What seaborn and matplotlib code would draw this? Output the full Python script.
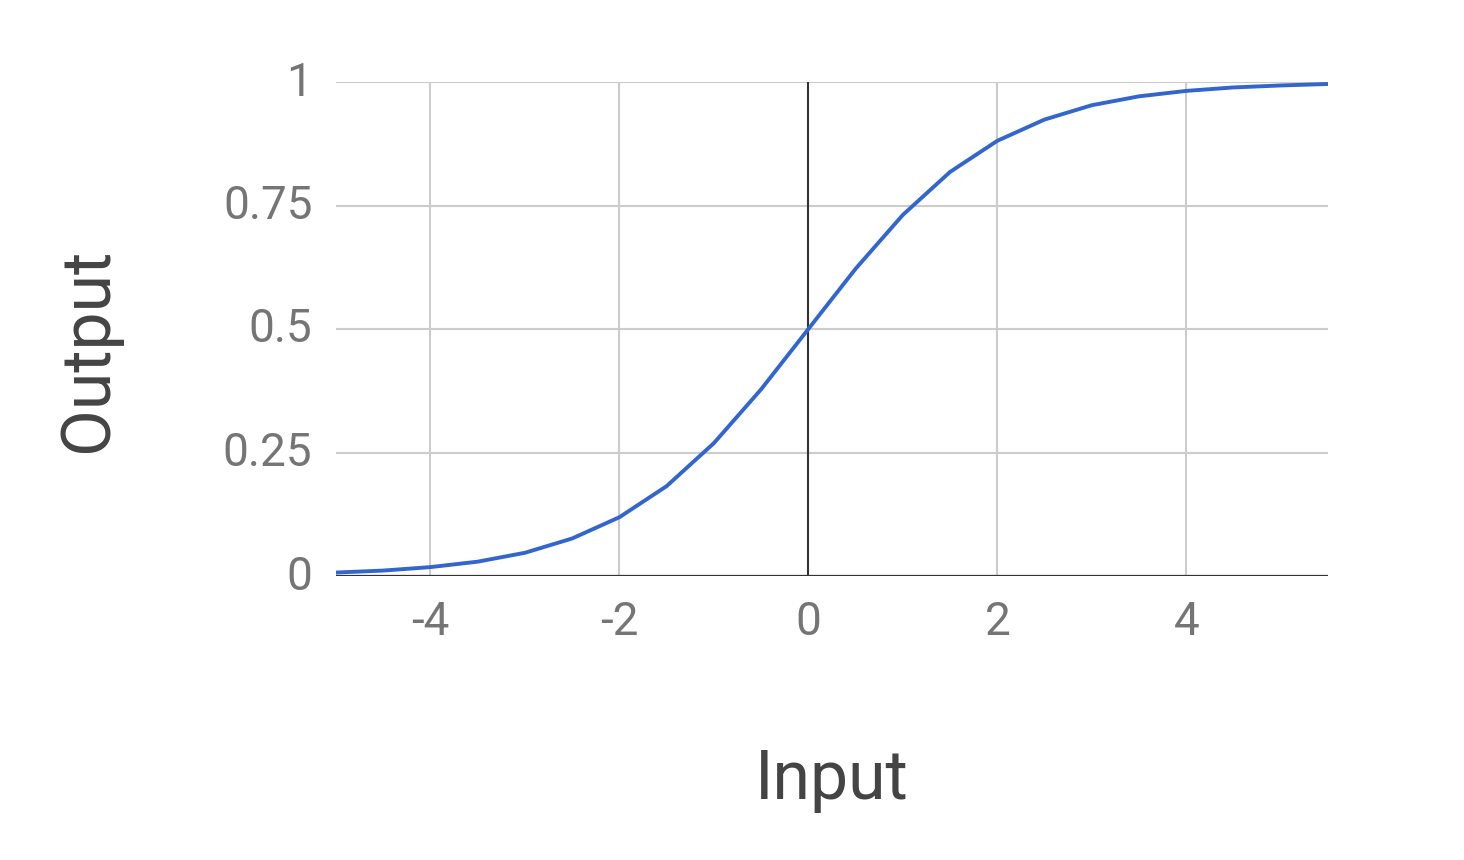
import matplotlib
matplotlib.use("Agg")
import matplotlib.pyplot as plt
import matplotlib.transforms as mtransforms
import seaborn as sns
import pandas as pd

x_values = [-5, -4.5, -4, -3.5, -3, -2.5, -2, -1.5, -1, -0.5, 0, 0.5, 1, 1.5, 2, 2.5, 3, 3.5, 4, 4.5, 5, 5.5]
y_values = [0.007, 0.011, 0.018, 0.029, 0.047, 0.076, 0.119, 0.182, 0.269, 0.378, 0.5,
            0.622, 0.731, 0.818, 0.881, 0.924, 0.953, 0.971, 0.982, 0.989, 0.993, 0.996]
x_ticks = [-4, -2, 0, 2, 4]
y_ticks = [0, 0.25, 0.5, 0.75, 1]
y_tick_labels = ["0", "0.25", "0.5", "0.75", "1"]
x_title = "Input"
y_title = "Output"

sns.set_theme(style="white")
plt.rcParams["font.family"] = ["Roboto", "DejaVu Sans"]

df = pd.DataFrame({"x": x_values, "y": y_values})

fig = plt.figure(figsize=(14.64, 8.6), dpi=100)
ax = fig.add_axes([336 / 1464, 1 - 576 / 860, 992 / 1464, 494 / 860])

# grid lines
for xt in x_ticks:
    if xt == 0:
        ax.axvline(xt, color="#333333", lw=1.5, zorder=2)
    else:
        ax.axvline(xt, color="#cccccc", lw=1.5, zorder=1)
for yt in y_ticks:
    if yt == 0:
        ax.axhline(yt, color="#333333", lw=1.6, zorder=2)
    else:
        ax.axhline(yt, color="#cccccc", lw=1.5, zorder=1)

sns.lineplot(data=df, x="x", y="y", ax=ax, color="#3366cc", lw=2.8, zorder=3)

ax.set_xlim(-5, 5.5)
ax.set_ylim(0, 1)
ax.set_xticks(x_ticks)
ax.set_xticklabels([str(t) for t in x_ticks])
ax.set_yticks(y_ticks)
ax.set_yticklabels(y_tick_labels)
ax.tick_params(axis="both", length=0, labelsize=33, labelcolor="#757575")
ax.tick_params(axis="y", pad=17)
ax.tick_params(axis="x", pad=17)
for s in ax.spines.values():
    s.set_visible(False)
ax.set_xlabel("")
ax.set_ylabel("")

offset = mtransforms.ScaledTranslation(0, 4 / 100, fig.dpi_scale_trans)
for lab in ax.get_yticklabels():
    lab.set_transform(lab.get_transform() + offset)

fig.text(832 / 1464, 1 - 780 / 860, x_title, fontsize=49, color="#444444", ha="center", va="center")
fig.text(88 / 1464, 1 - 350 / 860, y_title, fontsize=49, color="#444444", ha="center", va="center", rotation=90)

fig.savefig("out.png", dpi=100, facecolor="white")
